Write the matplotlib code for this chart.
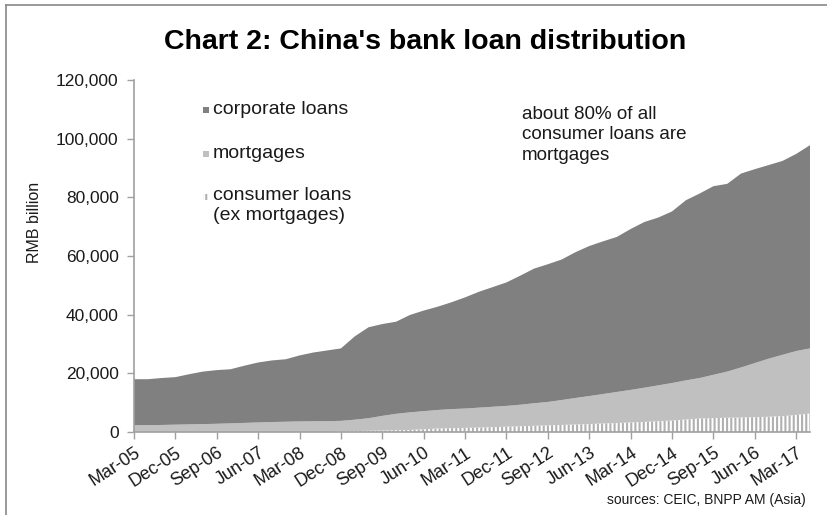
import numpy as np
import matplotlib
matplotlib.use("Agg")
import matplotlib.pyplot as plt
from matplotlib.patches import Rectangle
from matplotlib.ticker import FuncFormatter

plt.rcParams['font.family'] = ['Liberation Sans', 'DejaVu Sans']
plt.rcParams['hatch.color'] = '#b0b0b0'
plt.rcParams['hatch.linewidth'] = 1.5

# Quarterly observations, Mar-05 .. Jun-17 (RMB billion)
quarters = [
    'Mar-05', 'Jun-05', 'Sep-05', 'Dec-05', 'Mar-06', 'Jun-06', 'Sep-06', 'Dec-06',
    'Mar-07', 'Jun-07', 'Sep-07', 'Dec-07', 'Mar-08', 'Jun-08', 'Sep-08', 'Dec-08',
    'Mar-09', 'Jun-09', 'Sep-09', 'Dec-09', 'Mar-10', 'Jun-10', 'Sep-10', 'Dec-10',
    'Mar-11', 'Jun-11', 'Sep-11', 'Dec-11', 'Mar-12', 'Jun-12', 'Sep-12', 'Dec-12',
    'Mar-13', 'Jun-13', 'Sep-13', 'Dec-13', 'Mar-14', 'Jun-14', 'Sep-14', 'Dec-14',
    'Mar-15', 'Jun-15', 'Sep-15', 'Dec-15', 'Mar-16', 'Jun-16', 'Sep-16', 'Dec-16',
    'Mar-17', 'Jun-17',
]

consumer_ex_mortgages = [
    0, 0, 0, 0, 0, 0, 0, 0, 0, 0, 0, 0, 0, 0, 0, 200,
    300, 400, 500, 600, 700, 900, 1200, 1300, 1400, 1500, 1650, 1800, 1950, 2100,
    2250, 2400, 2550, 2700, 2900, 3050, 3250, 3450, 3650, 3900, 4250, 4600, 4750,
    4850, 4950, 5050, 5200, 5400, 5800, 6300,
]

mortgages = [
    2300, 2350, 2400, 2500, 2600, 2700, 2800, 2950, 3100, 3250, 3400, 3500, 3600,
    3650, 3700, 3600, 3900, 4300, 5000, 5600, 6000, 6200, 6300, 6500, 6600, 6800,
    6950, 7100, 7350, 7700, 8000, 8500, 9050, 9550, 10050, 10600, 11100, 11650,
    12250, 12800, 13350, 13800, 14750, 15750, 17050, 18450, 19800, 20900, 21800,
    22200,
]

corporate_loans = [
    15700, 15650, 16000, 16200, 17100, 17900, 18300, 18450, 19500, 20450, 21000,
    21300, 22500, 23450, 24100, 24700, 28400, 31000, 31300, 31400, 33200, 34300,
    35200, 36400, 37900, 39500, 40800, 42100, 44000, 45900, 46950, 47900, 49700,
    51150, 52050, 52850, 54850, 56500, 57200, 58500, 61400, 62900, 64300, 64000,
    66100, 66100, 66000, 66100, 67200, 69300,
]

tick_labels = ['Mar-05', 'Dec-05', 'Sep-06', 'Jun-07', 'Mar-08', 'Dec-08',
               'Sep-09', 'Jun-10', 'Mar-11', 'Dec-11', 'Sep-12', 'Jun-13',
               'Mar-14', 'Dec-14', 'Sep-15', 'Jun-16', 'Mar-17']

CORP_COLOR = '#808080'
MORT_COLOR = '#c0c0c0'
AXIS_COLOR = '#a0a0a0'
TEXT_COLOR = '#1a1a1a'

x = np.arange(len(quarters))
cons = np.array(consumer_ex_mortgages, dtype=float)
mort = np.array(mortgages, dtype=float)
corp = np.array(corporate_loans, dtype=float)

fig = plt.figure(figsize=(8.27, 5.15), dpi=100)
W, H = 827, 515

# outer chart frame (top and left edges visible)
fig.add_artist(plt.Line2D([6 / W, 6 / W], [0, 1 - 5 / H], transform=fig.transFigure,
                          color='#888888', lw=1.2))
fig.add_artist(plt.Line2D([6 / W, 1], [1 - 5 / H, 1 - 5 / H], transform=fig.transFigure,
                          color='#888888', lw=1.2))

ax_l, ax_r, ax_t, ax_b = 134, 810, 80, 432
ax = fig.add_axes([ax_l / W, 1 - ax_b / H, (ax_r - ax_l) / W, (ax_b - ax_t) / H])

base1 = cons
base2 = cons + mort
top = base2 + corp

ax.fill_between(x, 0, base1, facecolor='white', edgecolor='#b0b0b0',
                hatch='||||', linewidth=0)
ax.fill_between(x, base1, base2, facecolor=MORT_COLOR, linewidth=0)
ax.fill_between(x, base2, top, facecolor=CORP_COLOR, linewidth=0)

ax.set_xlim(0, len(quarters) - 1)
ax.set_ylim(0, 120000)
ax.set_yticks(np.arange(0, 120001, 20000))
ax.yaxis.set_major_formatter(FuncFormatter(lambda v, p: f'{int(v):,}'))

ax.set_xticks(x[::3])
ax.set_xticklabels(tick_labels, rotation=33, ha='right', rotation_mode='anchor')

for s in ('top', 'right'):
    ax.spines[s].set_visible(False)
for s in ('left', 'bottom'):
    ax.spines[s].set_color(AXIS_COLOR)
    ax.spines[s].set_linewidth(1.2)
ax.tick_params(axis='both', direction='out', length=5, width=1.0, color=AXIS_COLOR,
               labelsize=12.5, labelcolor=TEXT_COLOR)
ax.tick_params(axis='x', labelsize=13, pad=4)
ax.tick_params(axis='y', pad=6)

ax.set_ylabel('RMB billion', fontsize=11.5, color=TEXT_COLOR)
ax.yaxis.set_label_coords((42 - ax_l) / (ax_r - ax_l), (ax_b - 222) / (ax_b - ax_t))


def axc(px, py):
    return (px - ax_l) / (ax_r - ax_l), (ax_b - py) / (ax_b - ax_t)


# legend keys and labels
legend_items = [
    ('corporate loans', CORP_COLOR, None, 110),
    ('mortgages', MORT_COLOR, None, 154),
    ('consumer loans\n(ex mortgages)', 'white', '||||', 197),
]
sq = 6
for label, color, hatch, py in legend_items:
    x0, y0 = axc(203, py + sq / 2)
    w = sq / (ax_r - ax_l)
    h = sq / (ax_b - ax_t)
    ax.add_patch(Rectangle((x0, y0), w, h, transform=ax.transAxes, facecolor=color,
                           edgecolor='#b0b0b0' if hatch else 'none', hatch=hatch,
                           linewidth=0, clip_on=False))
    tx, ty = axc(213, py - 9.5)
    ax.text(tx, ty, label, transform=ax.transAxes, fontsize=14, color=TEXT_COLOR,
            va='top', ha='left', linespacing=1.2)

tx, ty = axc(522, 106)
ax.text(tx, ty, 'about 80% of all\nconsumer loans are\nmortgages', transform=ax.transAxes,
        fontsize=13.5, color=TEXT_COLOR, va='top', ha='left', linespacing=1.25)

fig.text(425 / W, 1 - 49 / H, "Chart 2: China's bank loan distribution", ha='center',
         va='baseline', fontsize=20.5, fontweight='bold', color='#000000')

fig.text(806 / W, 1 - 500 / H, 'sources: CEIC, BNPP AM (Asia)', ha='right', va='center',
         fontsize=10, color=TEXT_COLOR)

fig.savefig('out.png', dpi=100, facecolor='white')
